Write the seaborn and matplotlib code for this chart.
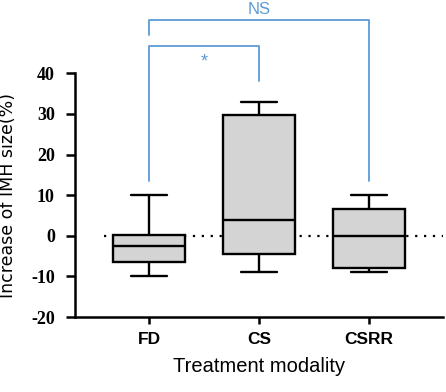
import pandas as pd
import seaborn as sns
import matplotlib.pyplot as plt

# five-number summaries: min, q1, median, q3, max
groups = ['FD', 'CS', 'CSRR']
fd = [-10, -6.5, -2.5, 0.3, 10]
cs = [-9, -4.5, 4, 29.7, 33]
csrr = [-9, -7.8, 0, 6.7, 10]
y_ticks = [-20, -10, 0, 10, 20, 30, 40]

df = pd.DataFrame({'group': ['FD'] * 5 + ['CS'] * 5 + ['CSRR'] * 5,
                   'value': fd + cs + csrr})

sns.set_style('ticks')
fig = plt.figure(figsize=(4.46, 3.92), dpi=100)
ax = fig.add_axes([0.168, 0.191, 0.825, 0.622])

sns.boxplot(data=df, x='group', y='value', order=groups, whis=(0, 100),
            width=0.65, color='#d4d4d4', linecolor='black', linewidth=1.7,
            saturation=1, ax=ax)

# dotted zero line
ax.axhline(0, xmin=0.08, xmax=1, color='black', ls=(0, (1, 3)), lw=1.6,
           zorder=0)

ax.set_xlim(-0.673, 2.67)
ax.set_ylim(-20, 40)
ax.set_yticks(y_ticks)
ax.set_yticklabels([str(t) for t in y_ticks], fontfamily='Liberation Serif',
                   fontweight='bold', fontsize=13, color='black')
ax.set_xticks(range(3))
ax.set_xticklabels(groups, fontfamily='Liberation Sans', fontweight='bold',
                   fontsize=12.5, color='black')
ax.set_xlabel('Treatment modality', fontfamily='Liberation Sans',
              fontsize=14.5, color='black')
ax.set_ylabel('Increase of IMH size(%)', fontfamily='DejaVu Sans',
              fontsize=12.5, color='black')
ax.xaxis.set_label_coords(0.5, -0.165)
ax.yaxis.set_label_coords(-0.158, 0.5)
sns.despine(ax=ax)
for s in ['left', 'bottom']:
    ax.spines[s].set_linewidth(1.8)
    ax.spines[s].set_color('black')
ax.tick_params(axis='y', length=6.5, width=1.8, pad=8, color='black')
ax.tick_params(axis='x', length=5, width=1.8, pad=6, color='black')

# significance brackets
blue = '#5b9bd5'
ax.plot([0, 0, 1, 1], [13.6, 46.7, 46.7, 38.2], color=blue, lw=1.3,
        clip_on=False)
ax.plot([0, 0, 2, 2], [49.5, 53.1, 53.1, 13.6], color=blue, lw=1.3,
        clip_on=False)
ax.text(0.5, 42.8, '*', color=blue, ha='center', va='center', fontsize=13,
        fontfamily='Liberation Sans')
ax.text(1.0, 55.8, 'NS', color=blue, ha='center', va='center', fontsize=12,
        fontfamily='Liberation Sans')

fig.savefig('out.png', dpi=100)
